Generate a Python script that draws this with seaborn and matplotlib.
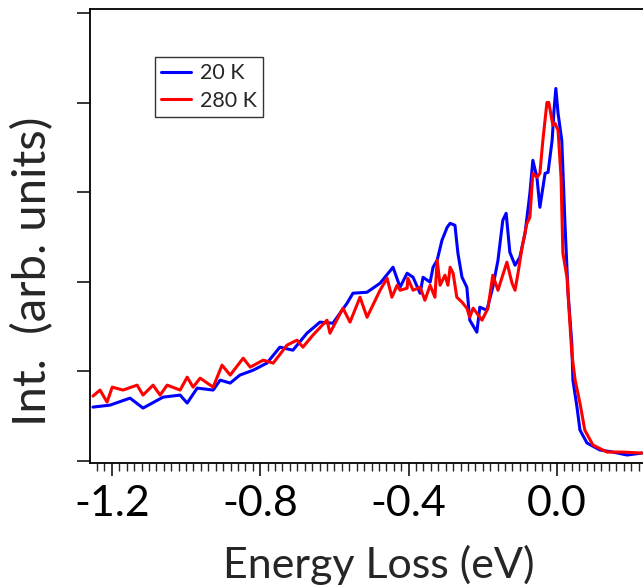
import numpy as np
import pandas as pd
import matplotlib
matplotlib.use("Agg")
import matplotlib.pyplot as plt
import seaborn as sns
from matplotlib.ticker import MultipleLocator, NullFormatter

# ------------------------------------------------------------------
# data (energy loss in eV, intensity arb.)
# ------------------------------------------------------------------
energy_20k = [-1.251, -1.205, -1.151, -1.116, -1.062, -1.016, -0.997, -0.970, -0.927, -0.908,
              -0.881, -0.855, -0.819, -0.782, -0.747, -0.712, -0.674, -0.639, -0.604, -0.566,
              -0.550, -0.512, -0.477, -0.442, -0.423, -0.404, -0.388, -0.369, -0.361, -0.342,
              -0.334, -0.323, -0.310, -0.296, -0.288, -0.275, -0.267, -0.256, -0.243, -0.235,
              -0.216, -0.208, -0.189, -0.173, -0.159, -0.146, -0.137, -0.127, -0.113, -0.100,
              -0.086, -0.073, -0.065, -0.054, -0.046, -0.032, -0.024, -0.013, -0.008, -0.003,
              0.003, 0.013, 0.022, 0.030, 0.040, 0.043, 0.054, 0.062, 0.081, 0.116,
              0.151, 0.189, 0.229]
int_20k = [0.602, 0.624, 0.702, 0.591, 0.713, 0.736, 0.647, 0.814, 0.792, 0.903,
           0.870, 0.959, 1.014, 1.093, 1.271, 1.237, 1.427, 1.550, 1.538, 1.761,
           1.873, 1.884, 1.984, 2.163, 1.940, 2.096, 2.051, 1.873, 2.051, 1.996,
           2.163, 2.241, 2.464, 2.609, 2.653, 2.631, 2.319, 2.051, 1.940, 1.572,
           1.438, 1.717, 1.683, 1.940, 2.241, 2.687, 2.765, 2.330, 2.185, 2.274,
           2.542, 2.988, 3.356, 3.166, 2.832, 3.211, 3.222, 3.579, 3.913, 4.158,
           3.880, 3.579, 2.609, 1.873, 1.315, 0.903, 0.602, 0.346, 0.201, 0.123,
           0.100, 0.067, 0.089]

energy_280k = [-1.251, -1.232, -1.213, -1.199, -1.170, -1.132, -1.116, -1.089, -1.070, -1.051,
               -1.016, -0.997, -0.981, -0.962, -0.927, -0.903, -0.881, -0.846, -0.827, -0.792,
               -0.765, -0.728, -0.701, -0.685, -0.658, -0.620, -0.612, -0.577, -0.558, -0.531,
               -0.512, -0.477, -0.458, -0.445, -0.431, -0.423, -0.404, -0.402, -0.388, -0.369,
               -0.356, -0.342, -0.329, -0.323, -0.315, -0.302, -0.294, -0.288, -0.280, -0.270,
               -0.256, -0.243, -0.235, -0.226, -0.202, -0.186, -0.173, -0.159, -0.148, -0.135,
               -0.121, -0.113, -0.105, -0.094, -0.081, -0.073, -0.065, -0.054, -0.046, -0.038,
               -0.027, -0.022, -0.011, -0.005, 0.003, 0.011, 0.016, 0.027, 0.040, 0.049,
               0.062, 0.075, 0.097, 0.135, 0.178, 0.229]
int_280k = [0.725, 0.792, 0.658, 0.825, 0.792, 0.847, 0.736, 0.847, 0.736, 0.847,
            0.792, 0.936, 0.825, 0.925, 0.825, 1.070, 0.959, 1.148, 1.048, 1.126,
            1.093, 1.293, 1.349, 1.271, 1.405, 1.572, 1.427, 1.706, 1.550, 1.828,
            1.605, 1.906, 2.040, 1.828, 1.962, 1.906, 1.929, 2.040, 1.906, 1.940,
            1.795, 1.962, 1.828, 2.241, 1.962, 2.074, 1.962, 2.163, 2.096, 1.828,
            1.773, 1.706, 1.605, 1.706, 1.572, 1.706, 2.074, 1.906, 2.051, 2.219,
            1.984, 1.906, 2.096, 2.386, 2.653, 2.720, 3.211, 3.166, 3.211, 3.579,
            4.002, 4.002, 3.746, 3.768, 3.690, 3.166, 2.319, 2.051, 1.204, 0.903,
            0.647, 0.346, 0.178, 0.100, 0.100, 0.089]

series_labels = ["20 K", "280 K"]
x_ticks = [-1.2, -0.8, -0.4, 0.0]

df = pd.concat([
    pd.DataFrame({"energy": energy_20k, "intensity": int_20k, "T": series_labels[0]}),
    pd.DataFrame({"energy": energy_280k, "intensity": int_280k, "T": series_labels[1]}),
])

# ------------------------------------------------------------------
# plot
# ------------------------------------------------------------------
sns.set_style("ticks")
plt.rcParams["font.family"] = ["Lato", "DejaVu Sans"]

fig = plt.figure(figsize=(6.43, 5.85), dpi=100)
ax = fig.add_axes([90 / 643, 1 - 463 / 585, 1 - 90 / 643, 454 / 585])

sns.lineplot(data=df, x="energy", y="intensity", hue="T", estimator=None, sort=False,
             palette={"20 K": "#0000ff", "280 K": "#ff0000"}, linewidth=2.2, ax=ax)

ax.set_xlim(-1.259, 0.232)
ax.set_ylim(-0.022, 5.045)

ax.set_xticks(x_ticks)
ax.set_xticklabels([f"{t:.1f}" for t in x_ticks])
ax.xaxis.set_minor_locator(MultipleLocator(0.02))
ax.set_yticks([0, 1, 2, 3, 4, 5])
ax.yaxis.set_major_formatter(NullFormatter())

ax.tick_params(axis="both", which="major", direction="out", length=9.5, width=1.1,
               labelsize=31, colors="black")
ax.tick_params(axis="x", which="minor", direction="out", length=5.5, width=1.0)
ax.tick_params(axis="x", which="major", pad=6)

for side in ["left", "bottom", "top"]:
    ax.spines[side].set_linewidth(1.3)
    ax.spines[side].set_color("black")
ax.spines["right"].set_visible(False)

ax.set_xlabel("Energy Loss (eV)", fontsize=31)
ax.set_ylabel("Int.  (arb. units)", fontsize=34)
ax.xaxis.label.set_va("center")
ax.yaxis.label.set_va("center")
ax.xaxis.set_label_coords(0.522, -0.225)
ax.yaxis.set_label_coords(-0.103, 0.423)

handles, labels = ax.get_legend_handles_labels()
leg = ax.legend(handles, labels, loc="upper left", bbox_to_anchor=(0.1175, 0.894),
                fontsize=15.5, frameon=True, fancybox=False, edgecolor="black",
                handlelength=1.4, handletextpad=0.42, borderpad=0.28, labelspacing=0.35,
                borderaxespad=0)
leg.get_frame().set_linewidth(1.0)

fig.savefig("out.png", dpi=100)
